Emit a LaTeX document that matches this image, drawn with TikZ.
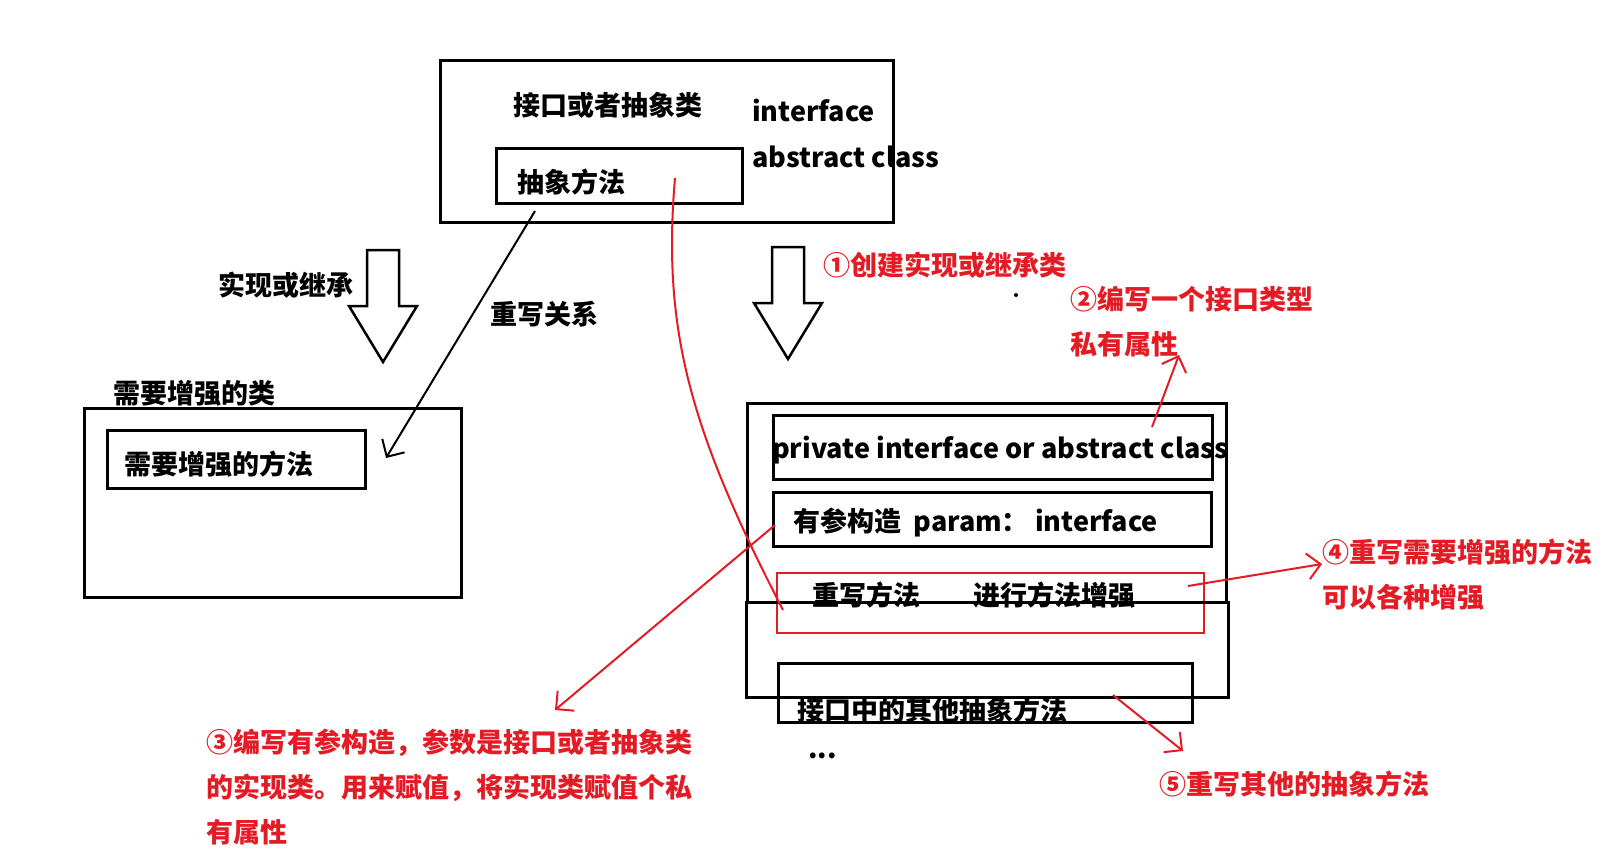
\documentclass[tikz,border=0pt]{standalone}
\usepackage{fontspec}
\setmainfont{Noto Sans CJK SC}
\usetikzlibrary{arrows.meta}
\definecolor{penred}{RGB}{228,27,36}
\tikzset{
  box/.style={draw,line width=3pt,inner sep=0pt},
  redbox/.style={draw=penred,line width=2.2pt,inner sep=0pt},
  lbl/.style={font=\fontsize{27}{32}\selectfont\bfseries,inner sep=0pt,anchor=west},
  note/.style={lbl,text=penred},
  barb/.style={-{Straight Barb[length=13pt,width=26pt,line width=2pt]}},
  redline/.style={draw=penred,line width=2pt},
  hollow/.style={draw,line width=2.5pt,fill=white}
}
\newcommand{\boxat}[6]{% style, name, x1, y1, x2, y2
  \node[#1,minimum width={(#5-#3)*1pt},minimum height={(#6-#4)*1pt}] (#2) at ({(#3+#5)/2},{(#4+#6)/2}) {};}
\begin{document}
\begin{tikzpicture}[x=1pt,y=-1pt]
\fill[white] (0,0) rectangle (1613,857);
\useasboundingbox (0,0) rectangle (1613,857);
% boxes
\boxat{box}{ifc}{440}{60}{893}{222}
\boxat{box}{absm}{496}{148}{742}{203}
\boxat{box}{enh}{84}{408}{461}{597}
\boxat{box}{enhm}{107}{430}{365}{488}
\boxat{box}{wrapA}{747}{403}{1226}{602}
\boxat{box}{field}{773}{415}{1212}{479}
\boxat{box}{ctor}{773}{492}{1211}{546}
\boxat{redbox}{over}{777}{573}{1204}{633}
\boxat{box}{other}{778}{663}{1192}{722}
% hollow arrows
\foreach \c/\t in {383/250,788/247}
  \draw[hollow] (\c-16,\t) -- (\c+16,\t) -- (\c+16,\t+56) -- (\c+34,\t+56)
    -- (\c,\t+112) -- (\c-34,\t+56) -- (\c-16,\t+56) -- cycle;
% black labels
\node[lbl] (ifcT) at (513,105) {接口或者抽象类};
\node[lbl] (ifcA) at (752,110) {interface};
\node[lbl] (ifcB) at (752,157) {abstract class};
\node[lbl] (absmT) at (517,182) {抽象方法};
\node[lbl] (implT) at (218,285) {实现或继承};
\node[lbl] (rwT) at (490,314) {重写关系};
\node[lbl] (enhT) at (113,393) {需要增强的类};
\node[lbl] (enhmT) at (124,464) {需要增强的方法};
\node[lbl] (fieldT) at (772,450) {private interface or abstract class};
\node[lbl] (ctorT) at (793,523) {有参构造\ \ param：\ interface};
\node[lbl] (overA) at (812,595) {重写方法};
\node[lbl] (overB) at (973,595) {进行方法增强};
\node[lbl] (otherT) at (797,710) {接口中的其他抽象方法};
\node[lbl] (dots) at (808,756) {...};
\boxat{box}{wrapB}{746}{602}{1228}{697}
% red notes
\node[note] (n1) at (823,265) {①创建实现或继承类};
\node[note] (n2) at (1070,299) {②编写一个接口类型};
\node[note] (n2b) at (1070,344) {私有属性};
\node[note,anchor=north west,align=left,font=\fontsize{27}{45}\selectfont\bfseries] (n3) at (206,729)
  {③编写有参构造，参数是接口或者抽象类\\的实现类。用来赋值，将实现类赋值个私\\有属性};
\node[note] (n4) at (1322,552) {④重写需要增强的方法};
\node[note] (n4b) at (1322,597) {可以各种增强};
\node[note] (n5) at (1159,784) {⑤重写其他的抽象方法};
\fill (1016,295) circle (2);
% connectors
\coordinate (rwS) at (535,211);
\coordinate (rwE) at (386,458);
\draw[barb,line width=2pt] (rwS) -- (rwE);
\coordinate (cvS) at (675,178);
\coordinate (cvE) at (783,610);
\draw[redline] (cvS) .. controls (662,330) and (690,430) .. (cvE);
\coordinate (a2S) at (1152,427);
\coordinate (a2E) at (1179,355);
\coordinate (a3S) at (775,525);
\coordinate (a3E) at (555,710);
\coordinate (a4S) at (1188,586);
\coordinate (a4E) at (1322,564);
\coordinate (a5S) at (1113,695);
\coordinate (a5E) at (1183,751);
\foreach \p in {a2,a3,a4,a5}
  \draw[redline,barb,penred] (\p S) -- (\p E);
\end{tikzpicture}
\end{document}
